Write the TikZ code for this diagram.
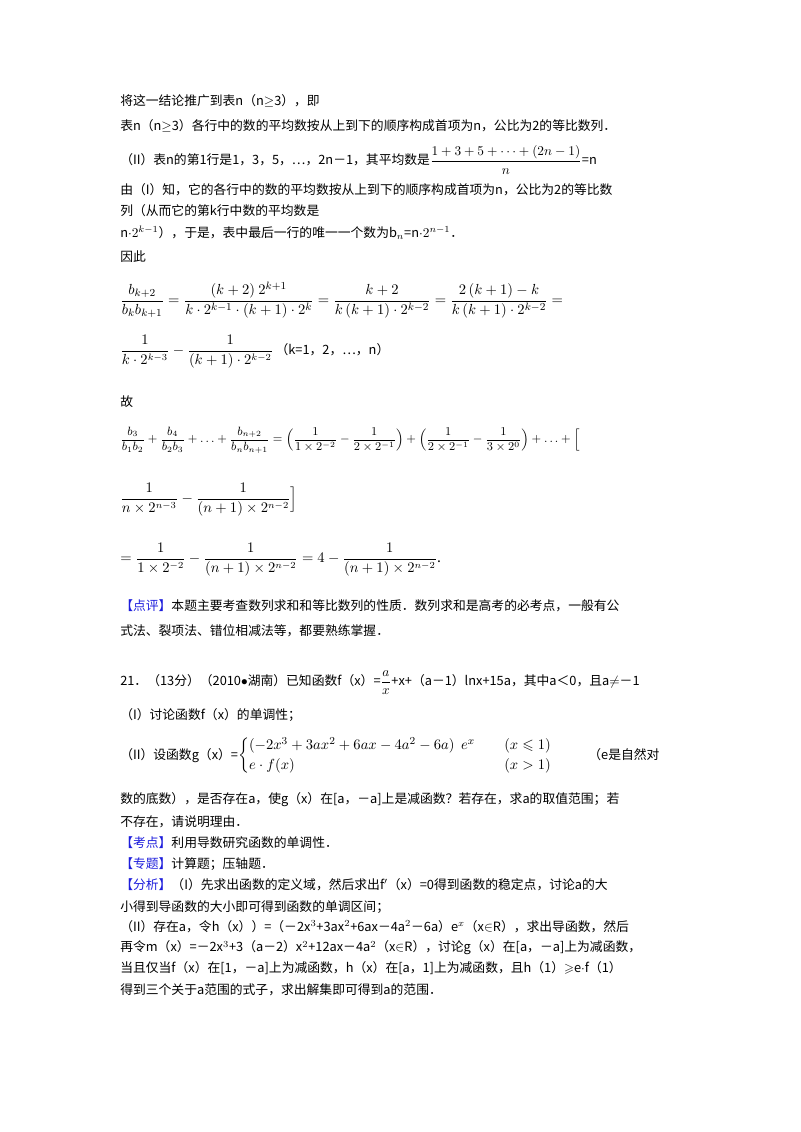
\documentclass[tikz,border=0pt]{standalone}
\usepackage{amsmath,amssymb}
\usepackage{fontspec}
\setmainfont{Noto Sans CJK SC}
\definecolor{tagblue}{RGB}{30,30,220}
\tikzset{ln/.style={anchor=west,inner sep=0pt,font=\fontsize{9.6}{11}\selectfont},
  mt/.style={anchor=west,inner sep=0pt,font=\fontsize{10.5}{12}\selectfont}}
\newcommand{\tg}[1]{\textcolor{tagblue}{【#1】}}
\begin{document}
\begin{tikzpicture}[x=0.75pt,y=-0.75pt]
\useasboundingbox (0,0) rectangle (800,1132);
\node[ln] (l1) at (120,101) {将这一结论推广到表n（n$\geq$3），即};
\node[ln] (l2) at (120,126) {表n（n$\geq$3）各行中的数的平均数按从上到下的顺序构成首项为n，公比为2的等比数列．};
\node[ln] (l3) at (120,160) {（II）表n的第1行是1，3，5，…，2n－1，其平均数是$\dfrac{1+3+5+\cdots+(2n-1)}{n}$=n};
\node[ln] (l4) at (120,190) {由（I）知，它的各行中的数的平均数按从上到下的顺序构成首项为n，公比为2的等比数};
\node[ln] (l5) at (120,211) {列（从而它的第k行中数的平均数是};
\node[ln] (l6) at (120,233) {n$\cdot2^{k-1}$），于是，表中最后一行的唯一一个数为b$_n$=n$\cdot2^{n-1}$．};
\node[ln] (l7) at (120,257) {因此};
\node[mt,font=\fontsize{11}{12}\selectfont] (m1) at (120,300) {$\dfrac{b_{k+2}}{b_kb_{k+1}}=\dfrac{(k+2)\ 2^{k+1}}{k\cdot2^{k-1}\cdot(k+1)\cdot2^k}=\dfrac{k+2}{k\,(k+1)\cdot2^{k-2}}=\dfrac{2\,(k+1)-k}{k\,(k+1)\cdot2^{k-2}}=$};
\node[mt] (m2) at (120,352) {$\dfrac{1}{k\cdot2^{k-3}}-\dfrac{1}{(k+1)\cdot2^{k-2}}$\,\fontsize{9.6}{11}\selectfont（k=1，2，…，n）};
\node[ln] (l8) at (120,402) {故};
\node[mt,font=\fontsize{9.2}{11}\selectfont] (m3) at (120,440) {$\dfrac{b_3}{b_1b_2}+\dfrac{b_4}{b_2b_3}+\ldots+\dfrac{b_{n+2}}{b_nb_{n+1}}=\Big(\dfrac{1}{1\times2^{-2}}-\dfrac{1}{2\times2^{-1}}\Big)+\Big(\dfrac{1}{2\times2^{-1}}-\dfrac{1}{3\times2^{0}}\Big)+\ldots+\Big[$};
\node[mt] (m4) at (120,500) {$\dfrac{1}{n\times2^{n-3}}-\dfrac{1}{(n+1)\times2^{n-2}}\Big]$};
\node[mt] (m5) at (120,560) {$=\dfrac{1}{1\times2^{-2}}-\dfrac{1}{(n+1)\times2^{n-2}}=4-\dfrac{1}{(n+1)\times2^{n-2}}$.};
\node[ln] (l9) at (120,606) {\tg{点评}本题主要考查数列求和和等比数列的性质．数列求和是高考的必考点，一般有公};
\node[ln] (l10) at (120,631) {式法、裂项法、错位相减法等，都要熟练掌握．};
\node[ln] (l11) at (120,683) {21．（13分）（2010$\bullet$湖南）已知函数f（x）=$\dfrac{a}{x}$+x+（a－1）lnx+15a，其中a＜0，且a$\neq$－1};
\node[ln] (l12) at (120,715) {（I）讨论函数f（x）的单调性；};
\node[ln] (l13) at (120,756) {（II）设函数g（x）=\fontsize{11}{12}\selectfont$\left\{\begin{array}{@{}l@{\qquad}l}(-2x^3+3ax^2+6ax-4a^2-6a)\ \ e^x & (x\leqslant1)\\[3pt] e\cdot f(x) & (x>1)\end{array}\right.$\qquad\fontsize{9.6}{11}\selectfont（e是自然对};
\node[ln] (l14) at (120,800) {数的底数），是否存在a，使g（x）在[a，－a]上是减函数？若存在，求a的取值范围；若};
\node[ln] (l15) at (120,822) {不存在，请说明理由．};
\node[ln] (l16) at (120,843) {\tg{考点}利用导数研究函数的单调性．};
\node[ln] (l17) at (120,864) {\tg{专题}计算题；压轴题．};
\node[ln] (l18) at (120,885) {\tg{分析}（I）先求出函数的定义域，然后求出f$'$（x）=0得到函数的稳定点，讨论a的大};
\node[ln] (l19) at (120,907) {小得到导函数的大小即可得到函数的单调区间；};
\node[ln] (l20) at (120,927) {（II）存在a，令h（x））=（－2x$^3$+3ax$^2$+6ax－4a$^2$－6a）e$^x$（x$\in$R），求出导函数，然后};
\node[ln] (l21) at (120,948) {再令m（x）=－2x$^3$+3（a－2）x$^2$+12ax－4a$^2$（x$\in$R），讨论g（x）在[a，－a]上为减函数，};
\node[ln] (l22) at (120,968) {当且仅当f（x）在[1，－a]上为减函数，h（x）在[a，1]上为减函数，且h（1）$\geqslant$e$\cdot$f（1）};
\node[ln] (l23) at (120,990) {得到三个关于a范围的式子，求出解集即可得到a的范围．};
\end{tikzpicture}
\end{document}
